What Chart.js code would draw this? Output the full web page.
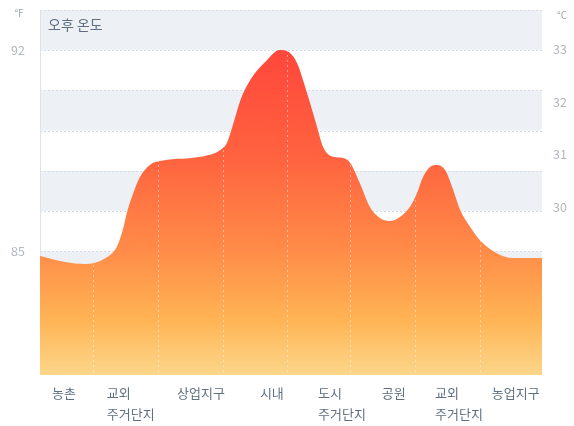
<!DOCTYPE html>
<html>
<head>
<meta charset="utf-8">
<script src="https://cdn.jsdelivr.net/npm/chart.js@4/dist/chart.umd.min.js"></script>
<style>
  html, body { margin: 0; padding: 0; background: #ffffff; }
  #wrap { width: 574px; height: 426px; }
</style>
</head>
<body>
<div id="wrap"><canvas id="c" width="574" height="426"></canvas></div>
<script>
// Zones along the transect and where each name starts (0–100 across the profile)
const zoneLabels = [['농촌'], ['교외', '주거단지'], ['상업지구'], ['시내'], ['도시', '주거단지'], ['공원'], ['교외', '주거단지'], ['농업지구']];
const labelPositions = [2.4, 13.3, 27.3, 43.8, 55.4, 68.1, 78.7, 90.0];
const zoneDividers = [10.6, 23.5, 36.5, 49.2, 61.8, 74.7, 87.6];

// Afternoon temperature profile (°F) along the transect
const profilePositions = [0, 5, 9, 13, 15.3, 16.5, 17.3, 18.3, 19.9, 21.9, 24.5, 31.9, 35.9, 37.3, 38.6, 40.0, 42.0, 45.0, 47.8, 49.2, 51.2, 52.4, 53.8, 55.2, 56.4, 58.4, 60.4, 61.8, 63.7, 65.7, 67.7, 69.7, 71.7, 73.7, 75.1, 76.3, 77.7, 79.1, 80.7, 82.1, 83.7, 85.7, 87.6, 91.0, 94.2, 100];
const tempF = [84.84, 84.63, 84.56, 84.76, 85.16, 85.75, 86.34, 86.89, 87.59, 88.01, 88.16, 88.29, 88.53, 88.8, 89.5, 90.3, 91.0, 91.62, 92.01, 91.97, 91.56, 90.96, 90.16, 89.33, 88.63, 88.29, 88.25, 88.08, 87.38, 86.55, 86.16, 86.06, 86.2, 86.55, 87.03, 87.59, 87.94, 88.01, 87.83, 87.24, 86.44, 85.85, 85.4, 84.94, 84.77, 84.77];

// Axis ticks
const fTicks = [80.8, 82.2, 83.6, 85, 86.4, 87.8, 89.2, 90.6, 92, 93.4];
const fLabeled = [85, 92];
const cTicks = [30, 31, 32, 33];

const FONT = "'Noto Sans CJK KR', 'Noto Sans', sans-serif";

// Fixed axis thickness, no extra room reserved for edge labels
function fixBox(size) {
  return axis => {
    if (axis.isHorizontal()) axis.height = size; else axis.width = size;
    axis.paddingTop = 0;
    axis.paddingBottom = 0;
    axis.paddingLeft = 0;
    axis.paddingRight = 0;
  };
}

// Striped background, dotted guide lines, title and unit marks
const backdrop = {
  id: 'backdrop',
  beforeDatasetsDraw(chart) {
    const { ctx, chartArea: a } = chart;
    const yF = chart.scales.yF;
    ctx.save();
    for (let i = 0; i < fTicks.length - 1; i += 2) {
      const y1 = yF.getPixelForValue(fTicks[i + 1]);
      const y0 = yF.getPixelForValue(fTicks[i]);
      ctx.fillStyle = '#edf1f6';
      ctx.fillRect(a.left, y1, a.right - a.left, y0 - y1);
    }
    ctx.strokeStyle = '#d6dce3';
    ctx.lineWidth = 1;
    ctx.setLineDash([2, 2]);
    fTicks.forEach(v => {
      const y = Math.round(yF.getPixelForValue(v)) + 0.5;
      ctx.beginPath();
      ctx.moveTo(a.left, y);
      ctx.lineTo(a.right, y);
      ctx.stroke();
    });
    ctx.setLineDash([]);
    ctx.strokeStyle = '#dfe3e8';
    ctx.beginPath();
    ctx.moveTo(a.left + 0.5, a.top);
    ctx.lineTo(a.left + 0.5, a.bottom);
    ctx.stroke();

    ctx.fillStyle = '#5e6f80';
    ctx.font = '14px ' + FONT;
    ctx.textAlign = 'left';
    ctx.textBaseline = 'middle';
    ctx.fillText('오후 온도', a.left + 8, a.top + 15);

    ctx.fillStyle = '#9ea5ac';
    ctx.font = '10px ' + FONT;
    ctx.textAlign = 'center';
    ctx.fillText('°F', 19, a.top + 3);
    ctx.fillText('°C', 562, a.top + 5);
    ctx.restore();
  }
};

// Zone boundaries, shown only inside the filled profile
const zoneLines = {
  id: 'zoneLines',
  afterDatasetsDraw(chart) {
    const { ctx, chartArea: a } = chart;
    const meta = chart.getDatasetMeta(0);
    const line = meta.dataset;
    const pts = meta.data;
    if (!line || typeof line.path !== 'function' || !pts.length) return;
    ctx.save();
    ctx.beginPath();
    line.path(ctx);
    ctx.lineTo(pts[pts.length - 1].x, a.bottom);
    ctx.lineTo(pts[0].x, a.bottom);
    ctx.closePath();
    ctx.clip();
    ctx.strokeStyle = 'rgba(255,255,255,0.45)';
    ctx.lineWidth = 1;
    ctx.setLineDash([2, 3]);
    zoneDividers.forEach(v => {
      const x = Math.round(chart.scales.x.getPixelForValue(v)) + 0.5;
      ctx.beginPath();
      ctx.moveTo(x, a.top);
      ctx.lineTo(x, a.bottom);
      ctx.stroke();
    });
    ctx.restore();
  }
};

new Chart(document.getElementById('c'), {
  type: 'line',
  data: {
    datasets: [{
      data: profilePositions.map((x, i) => ({ x, y: tempF[i] })),
      yAxisID: 'yF',
      fill: 'start',
      borderWidth: 0,
      borderColor: 'rgba(0,0,0,0)',
      pointRadius: 0,
      cubicInterpolationMode: 'monotone',
      backgroundColor(context) {
        const { ctx, chartArea } = context.chart;
        if (!chartArea) return '#ff7a45';
        const g = ctx.createLinearGradient(0, chartArea.top, 0, chartArea.bottom);
        g.addColorStop(0.0, '#ff4039');
        g.addColorStop(0.1, '#ff463c');
        g.addColorStop(0.4, '#ff623f');
        g.addColorStop(0.66, '#ff8c48');
        g.addColorStop(0.85, '#ffb455');
        g.addColorStop(1.0, '#fcd68a');
        return g;
      }
    }]
  },
  options: {
    responsive: false,
    animation: false,
    devicePixelRatio: 1,
    layout: { padding: { top: 10, left: 0, right: 0, bottom: 0 } },
    plugins: { legend: { display: false }, tooltip: { enabled: false }, title: { display: false } },
    scales: {
      x: {
        type: 'linear',
        position: 'bottom',
        min: 0,
        max: 100,
        grid: { display: false, drawTicks: false },
        border: { display: false },
        afterBuildTicks(axis) { axis.ticks = labelPositions.map(v => ({ value: v })); },
        afterFit: fixBox(51),
        ticks: {
          autoSkip: false,
          maxRotation: 0,
          align: 'start',
          padding: 8,
          color: '#607080',
          font: { size: 13, family: FONT, lineHeight: 1.6 },
          callback: (v, i) => zoneLabels[i]
        }
      },
      yF: {
        type: 'linear',
        position: 'left',
        min: 80.7,
        max: 93.4,
        grid: { display: false, drawTicks: false },
        border: { display: false },
        afterBuildTicks(axis) { axis.ticks = fTicks.map(v => ({ value: v })); },
        afterFit: fixBox(40),
        ticks: {
          padding: 15,
          color: '#b3b8bd',
          font: { size: 12.5, family: FONT },
          callback: v => (fLabeled.includes(v) ? String(v) : '')
        }
      },
      yC: {
        type: 'linear',
        position: 'right',
        min: 26.8,
        max: 33.75,
        grid: { display: false, drawTicks: false },
        border: { display: false },
        afterBuildTicks(axis) { axis.ticks = cTicks.map(v => ({ value: v })); },
        afterFit: fixBox(32),
        ticks: {
          padding: 11,
          color: '#b3b8bd',
          font: { size: 12.5, family: FONT },
          callback: v => String(v)
        }
      }
    }
  },
  plugins: [backdrop, zoneLines]
});
</script>
</body>
</html>
